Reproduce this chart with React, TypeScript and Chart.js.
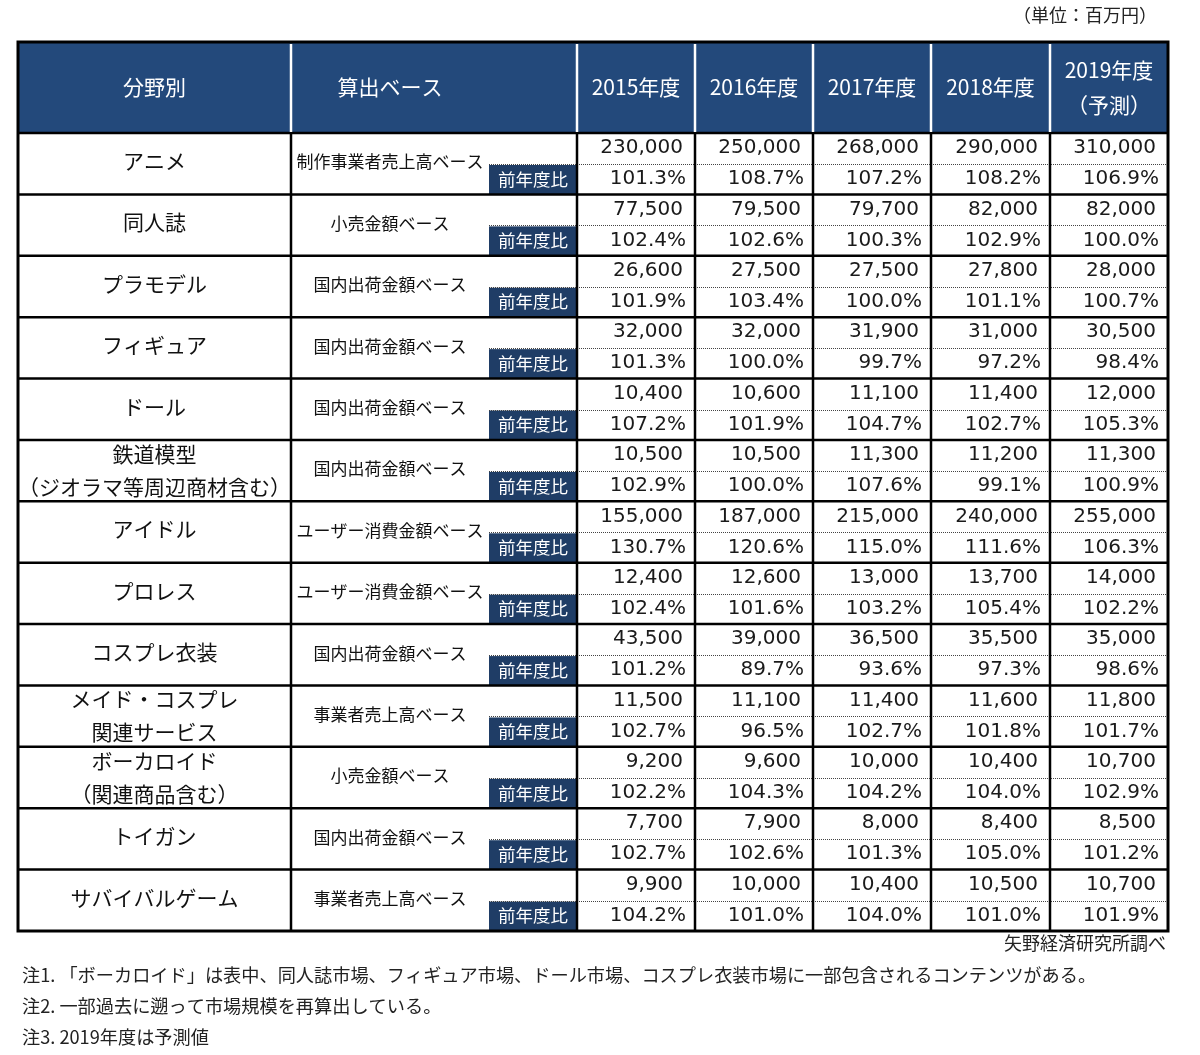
import React, { useEffect, useRef } from "react";
import { Chart, registerables } from "chart.js";

Chart.register(...registerables);

// ---------- data ----------
const categories: string[][] = [
  ["アニメ"],
  ["同人誌"],
  ["プラモデル"],
  ["フィギュア"],
  ["ドール"],
  ["鉄道模型", "（ジオラマ等周辺商材含む）"],
  ["アイドル"],
  ["プロレス"],
  ["コスプレ衣装"],
  ["メイド・コスプレ", "関連サービス"],
  ["ボーカロイド", "（関連商品含む）"],
  ["トイガン"],
  ["サバイバルゲーム"],
];
const bases: string[] = [
  "制作事業者売上高ベース",
  "小売金額ベース",
  "国内出荷金額ベース",
  "国内出荷金額ベース",
  "国内出荷金額ベース",
  "国内出荷金額ベース",
  "ユーザー消費金額ベース",
  "ユーザー消費金額ベース",
  "国内出荷金額ベース",
  "事業者売上高ベース",
  "小売金額ベース",
  "国内出荷金額ベース",
  "事業者売上高ベース",
];
const headerLabels: string[][] = [["分野別"], ["算出ベース"]];
const yearLabels: string[][] = [
  ["2015年度"],
  ["2016年度"],
  ["2017年度"],
  ["2018年度"],
  ["2019年度", "（予測）"],
];
const v2015 = [230000, 77500, 26600, 32000, 10400, 10500, 155000, 12400, 43500, 11500, 9200, 7700, 9900];
const v2016 = [250000, 79500, 27500, 32000, 10600, 10500, 187000, 12600, 39000, 11100, 9600, 7900, 10000];
const v2017 = [268000, 79700, 27500, 31900, 11100, 11300, 215000, 13000, 36500, 11400, 10000, 8000, 10400];
const v2018 = [290000, 82000, 27800, 31000, 11400, 11200, 240000, 13700, 35500, 11600, 10400, 8400, 10500];
const v2019 = [310000, 82000, 28000, 30500, 12000, 11300, 255000, 14000, 35000, 11800, 10700, 8500, 10700];
const r2015 = [101.3, 102.4, 101.9, 101.3, 107.2, 102.9, 130.7, 102.4, 101.2, 102.7, 102.2, 102.7, 104.2];
const r2016 = [108.7, 102.6, 103.4, 100.0, 101.9, 100.0, 120.6, 101.6, 89.7, 96.5, 104.3, 102.6, 101.0];
const r2017 = [107.2, 100.3, 100.0, 99.7, 104.7, 107.6, 115.0, 103.2, 93.6, 102.7, 104.2, 101.3, 104.0];
const r2018 = [108.2, 102.9, 101.1, 97.2, 102.7, 99.1, 111.6, 105.4, 97.3, 101.8, 104.0, 105.0, 101.0];
const r2019 = [106.9, 100.0, 100.7, 98.4, 105.3, 100.9, 106.3, 102.2, 98.6, 101.7, 102.9, 101.2, 101.9];
const ratioLabel = "前年度比";
const unitNote = "（単位：百万円）";
const sourceNote = "矢野経済研究所調べ";
const notes: string[] = [
  "注1. 「ボーカロイド」は表中、同人誌市場、フィギュア市場、ドール市場、コスプレ衣装市場に一部包含されるコンテンツがある。",
  "注2. 一部過去に遡って市場規模を再算出している。",
  "注3. 2019年度は予測値",
];

// ---------- layout ----------
const W = 1200;
const H = 1055;
const colX = [18, 291, 577, 695, 813, 931, 1050, 1168];
const subX = 489;
const headTop = 42;
const headBottom = 133;
const tableBottom = 931;

const JP = '"Noto Sans CJK JP", "Noto Sans", sans-serif';
const NUM = '"DejaVu Sans", sans-serif';
const HEAD_BG = "#23497b";
const BOX_BG = "#1f3d66";

const tablePlugin = {
  id: "tableDraw",
  afterDraw(chart: any) {
    const ctx: CanvasRenderingContext2D = chart.ctx;
    const xs = chart.scales.x;
    const ys = chart.scales.y;
    const X = (v: number) => xs.getPixelForValue(v);
    const Y = (v: number) => ys.getPixelForValue(v);
    const values = [v2015, v2016, v2017, v2018, v2019];
    const ratios = [r2015, r2016, r2017, r2018, r2019];
    const n = categories.length;
    const rowH = (tableBottom - headBottom) / n;
    const L = X(colX[0]);
    const R = X(colX[colX.length - 1]);

    ctx.save();
    ctx.fillStyle = "#ffffff";
    ctx.fillRect(0, 0, chart.width, chart.height);

    // header
    ctx.fillStyle = HEAD_BG;
    ctx.fillRect(L, Y(headTop), R - L, Y(headBottom) - Y(headTop));

    const drawLines = (lines: string[], cx: number, cy: number, gap: number) => {
      const start = cy - ((lines.length - 1) * gap) / 2;
      lines.forEach((t, i) => ctx.fillText(t, cx, start + i * gap));
    };

    ctx.textAlign = "center";
    ctx.textBaseline = "middle";
    ctx.fillStyle = "#ffffff";
    ctx.font = `21px ${JP}`;
    const headMid = (Y(headTop) + Y(headBottom)) / 2;
    drawLines(headerLabels[0], (X(colX[0]) + X(colX[1])) / 2, headMid, 34);
    drawLines(headerLabels[1], (X(colX[1]) + X(subX)) / 2, headMid, 34);
    yearLabels.forEach((lines, j) => {
      drawLines(lines, (X(colX[j + 2]) + X(colX[j + 3])) / 2, headMid, 35);
    });

    // rows
    for (let i = 0; i < n; i++) {
      const top = Y(headBottom + i * rowH);
      const bot = Y(headBottom + (i + 1) * rowH);
      ctx.fillStyle = BOX_BG;
      ctx.fillRect(X(subX), top + 32, X(colX[2]) - X(subX), bot - top - 32);
      ctx.fillStyle = "#ffffff";
      ctx.font = `17.5px ${JP}`;
      ctx.textAlign = "center";
      ctx.fillText(ratioLabel, (X(subX) + X(colX[2])) / 2, top + 46);

      ctx.save();
      ctx.strokeStyle = "#444";
      ctx.lineWidth = 1;
      ctx.setLineDash([1, 1]);
      ctx.beginPath();
      ctx.moveTo(X(subX), Math.round(top + 31) + 0.5);
      ctx.lineTo(R, Math.round(top + 31) + 0.5);
      ctx.stroke();
      ctx.restore();

      ctx.fillStyle = "#111";
      ctx.font = `21px ${JP}`;
      const cat = categories[i];
      const cx = (X(colX[0]) + X(colX[1])) / 2;
      if (cat.length === 1) {
        ctx.fillText(cat[0], cx, top + 28);
      } else {
        ctx.fillText(cat[0], cx, top + 14);
        ctx.fillText(cat[1], cx, top + 47);
      }
      ctx.font = `17px ${JP}`;
      ctx.fillText(bases[i], (X(colX[1]) + X(subX)) / 2, top + 29);

      ctx.textAlign = "right";
      ctx.font = `20px ${NUM}`;
      ctx.fillStyle = "#1a1a1a";
      for (let j = 0; j < 5; j++) {
        const right = X(colX[j + 3]);
        ctx.fillText(values[j][i].toLocaleString("en-US"), right - 12, top + 15);
        ctx.fillText(ratios[j][i].toFixed(1) + "%", right - 9, top + 46);
      }
    }

    // grid lines
    ctx.strokeStyle = "#000";
    ctx.lineWidth = 2.5;
    for (let i = 0; i < n; i++) {
      const y = Y(headBottom + i * rowH);
      ctx.beginPath();
      ctx.moveTo(L, y);
      ctx.lineTo(R, y);
      ctx.stroke();
    }
    for (let k = 1; k < colX.length - 1; k++) {
      const x = X(colX[k]);
      ctx.strokeStyle = "#000";
      ctx.beginPath();
      ctx.moveTo(x, Y(headBottom));
      ctx.lineTo(x, Y(tableBottom));
      ctx.stroke();
      ctx.strokeStyle = "#ffffff";
      ctx.beginPath();
      ctx.moveTo(x, Y(headTop) + 2);
      ctx.lineTo(x, Y(headBottom) - 1);
      ctx.stroke();
    }
    ctx.strokeStyle = "#000";
    ctx.lineWidth = 3;
    ctx.strokeRect(L, Y(headTop), R - L, Y(tableBottom) - Y(headTop));

    // notes
    ctx.fillStyle = "#222";
    ctx.textAlign = "right";
    ctx.font = `18px ${JP}`;
    ctx.fillText(unitNote, X(1157), Y(15));
    ctx.fillText(sourceNote, X(1166), Y(943));
    ctx.textAlign = "left";
    ctx.font = `18.2px ${JP}`;
    notes.forEach((t, i) => ctx.fillText(t, X(22), Y(975 + i * 31)));
    ctx.restore();
  },
};

export default function App() {
  const ref = useRef<HTMLCanvasElement | null>(null);
  useEffect(() => {
    if (!ref.current) return;
    const chart = new Chart(ref.current, {
      type: "scatter",
      data: { datasets: [{ data: [], pointRadius: 0 }] },
      options: {
        responsive: false,
        maintainAspectRatio: false,
        animation: false,
        events: [],
        layout: { padding: 0 },
        plugins: { legend: { display: false }, tooltip: { enabled: false } },
        scales: {
          x: { type: "linear", min: 0, max: W, display: false },
          y: { type: "linear", min: 0, max: H, reverse: true, display: false },
        },
      },
      plugins: [tablePlugin],
    });
    return () => chart.destroy();
  }, []);
  return (
    <div style={{ position: "absolute", left: 0, top: 0, width: W, height: H, background: "#fff" }}>
      <canvas ref={ref} width={W} height={H} style={{ display: "block", width: W, height: H }} />
    </div>
  );
}
